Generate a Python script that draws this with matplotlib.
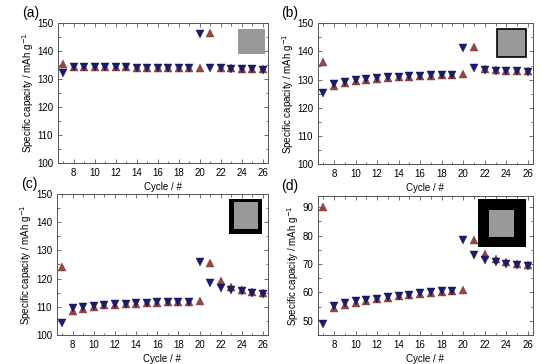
import numpy as np
import matplotlib
matplotlib.use('Agg')
from matplotlib import pyplot as plt
from matplotlib.ticker import MultipleLocator
from matplotlib.patches import Rectangle

plt.rcParams['font.family'] = ['Liberation Sans', 'DejaVu Sans']

cycles = np.arange(7, 27)

# panel (a)
a_up = [135.3, 134.3, 134.3, 134.3, 134.2, 134.1, 134.1, 134.0, 134.0, 133.9, 133.9, 133.8, 133.8,
        133.8, 146.3, 134.0, 133.8, 133.6, 133.5, 133.4]
a_down = [132.2, 134.3, 134.3, 134.3, 134.2, 134.1, 134.1, 134.0, 134.0, 133.9, 133.9, 133.8, 133.8,
          146.1, 134.0, 133.9, 133.7, 133.6, 133.5, 133.3]
# panel (b)
b_up = [136.1, 127.9, 128.8, 129.5, 130.0, 130.4, 130.7, 130.9, 131.1, 131.3, 131.4, 131.6, 131.7,
        132.0, 141.5, 133.8, 133.3, 133.1, 133.0, 132.9]
b_down = [125.3, 128.6, 129.3, 129.9, 130.3, 130.7, 130.9, 131.1, 131.3, 131.4, 131.5, 131.7, 131.8,
          141.2, 134.0, 133.5, 133.2, 133.0, 132.9, 132.8]
# panel (c)
c_up = [124.0, 108.6, 109.2, 110.0, 110.5, 110.7, 110.9, 111.1, 111.3, 111.4, 111.5, 111.6, 111.7,
        112.0, 125.5, 119.0, 116.9, 116.0, 115.3, 114.8]
c_down = [104.2, 109.4, 109.8, 110.3, 110.7, 110.9, 111.1, 111.3, 111.4, 111.5, 111.6, 111.7, 111.8,
          126.0, 118.5, 116.8, 116.0, 115.4, 114.9, 114.4]
# panel (d)
d_up = [90.0, 54.3, 55.4, 56.2, 57.0, 57.5, 58.0, 58.6, 59.1, 59.5, 59.9, 60.2, 60.5,
        60.9, 78.3, 73.6, 71.6, 70.6, 70.0, 69.5]
d_down = [48.7, 55.3, 56.1, 56.8, 57.4, 57.8, 58.3, 58.8, 59.2, 59.6, 60.0, 60.3, 60.6,
          78.3, 73.2, 71.4, 70.6, 70.0, 69.5, 69.1]

fig = plt.figure(figsize=(5.52, 3.64), dpi=100)

panels = [
    ('(a)', [0.105, 0.552, 0.380, 0.385], a_up, a_down, (100, 150), 10, 0),
    ('(b)', [0.576, 0.549, 0.389, 0.387], b_up, b_down, (100, 150), 10, 1),
    ('(c)', [0.103, 0.080, 0.382, 0.387], c_up, c_down, (100, 150), 10, 2),
    ('(d)', [0.576, 0.080, 0.389, 0.382], d_up, d_down, (45, 94), 10, 3),
]

for label, rect, up, down, ylim, ystep, kind in panels:
    ax = fig.add_axes(rect)
    ax.plot(cycles, up, '^', color='#964646', ms=5.3, mec='#7a3030', mew=0.3)
    ax.plot(cycles, down, 'v', color='#1c1c6a', ms=5.3, mec='#10104a', mew=0.3)
    ax.set_xlim(6.5, 26.45)
    ax.set_ylim(*ylim)
    ax.xaxis.set_major_locator(MultipleLocator(2))
    ax.xaxis.set_minor_locator(MultipleLocator(1))
    ax.yaxis.set_major_locator(MultipleLocator(ystep))
    ax.yaxis.set_minor_locator(MultipleLocator(ystep / 2))
    ax.tick_params(which='both', direction='in', top=True, right=True, labelsize=7, width=0.6,
                   color='#555555')
    ax.tick_params(which='major', length=3)
    ax.tick_params(which='minor', length=1.8)
    for s in ax.spines.values():
        s.set_linewidth(0.7)
        s.set_color('#555555')
    ax.set_xticks(np.arange(8, 27, 2))
    ax.set_xlabel('Cycle / #', fontsize=7, labelpad=3)
    ax.set_ylabel('Specific capacity / mAh g$^{-1}$', fontsize=7, labelpad=1)
    ax.text(-0.17, 1.02, label, transform=ax.transAxes, fontsize=10,
            ha='left', va='bottom')

    # inset icon of the electrode
    if kind == 0:
        ax.add_patch(Rectangle((0.86, 0.78), 0.125, 0.18, transform=ax.transAxes,
                               facecolor='#999999', edgecolor='none'))
    elif kind == 1:
        ax.add_patch(Rectangle((0.835, 0.76), 0.135, 0.2, transform=ax.transAxes,
                               facecolor='#999999', edgecolor='black', lw=1.2))
    elif kind == 2:
        ax.add_patch(Rectangle((0.815, 0.715), 0.16, 0.25, transform=ax.transAxes,
                               facecolor='black', edgecolor='none'))
        ax.add_patch(Rectangle((0.84, 0.755), 0.115, 0.185, transform=ax.transAxes,
                               facecolor='#999999', edgecolor='none'))
    else:
        ax.add_patch(Rectangle((0.745, 0.635), 0.225, 0.34, transform=ax.transAxes,
                               facecolor='black', edgecolor='none', zorder=3))
        ax.add_patch(Rectangle((0.795, 0.705), 0.12, 0.19, transform=ax.transAxes,
                               facecolor='#999999', edgecolor='none', zorder=4))

fig.savefig('out.png', dpi=100)
